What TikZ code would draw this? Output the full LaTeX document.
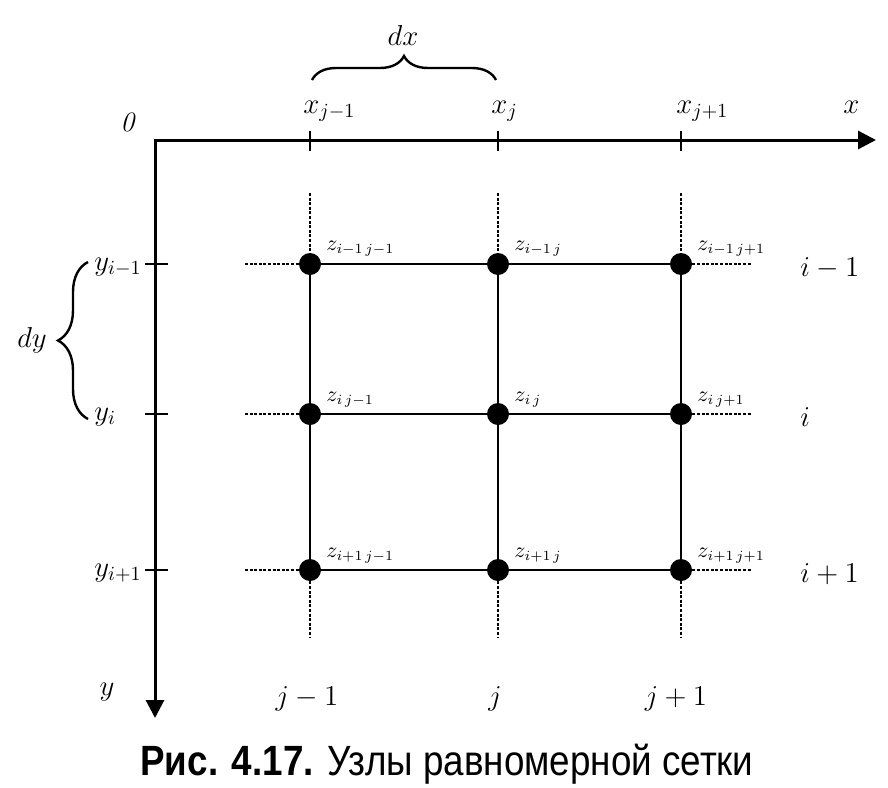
\documentclass[tikz,border=0pt]{standalone}
\usepackage{amsmath}
\usepackage{fontspec}
\usetikzlibrary{arrows.meta,decorations.pathreplacing}
\newfontfamily\capfont{Liberation Sans}

\begin{document}
\begin{tikzpicture}[x=0.5pt,y=-0.5pt,
        axis/.style={line width=1.5pt,{Triangle[length=9pt,width=9pt]}-{Triangle[length=9pt,width=9pt]}},
        gridline/.style={line width=1pt},
        stub/.style={line width=0.9pt,dash pattern=on 1.5pt off 0.8pt},
        tick/.style={line width=1.2pt},
        knot/.style={circle,fill=black,inner sep=0pt,minimum size=11pt},
        zlab/.style={font=\fontsize{10.5}{12}\selectfont,anchor=base west,inner sep=0pt},
        axlab/.style={font=\fontsize{14}{16}\selectfont,inner sep=0pt},
        idxlab/.style={font=\fontsize{14}{16}\selectfont,inner sep=0pt},
        brc/.style={decorate,decoration={brace,amplitude=#1},line width=1.2pt}]
            \useasboundingbox (0,0) rectangle (888,787);
            \coordinate (orig) at (155,140);
            \coordinate (xend) at (876,140);
            \coordinate (yend) at (155,718);
            \draw[axis] (xend) -- (orig) -- (yend);
            \foreach \xx in {310,498,681}
                \draw[tick] (\xx,131) -- (\xx,151);
            \foreach \yy in {264,414,570}
                \draw[tick] (145,\yy) -- (168,\yy);
            \foreach \r/\yy in {1/264,2/414,3/570}
                \foreach \c/\xx in {1/310,2/498,3/681}
                    \node[knot] (n\r\c) at (\xx,\yy) {};
            \foreach \r/\yy in {1/264,2/414,3/570} {
                \coordinate (w\r) at (245,\yy);
                \coordinate (e\r) at (752,\yy);
                \draw[gridline] (n\r1) -- (n\r2) -- (n\r3);
                \draw[stub] (w\r) -- (n\r1);
                \draw[stub] (n\r3) -- (e\r);
            }
            \foreach \c/\xx in {1/310,2/498,3/681} {
                \coordinate (t\c) at (\xx,193);
                \coordinate (b\c) at (\xx,638);
                \draw[gridline] (n1\c) -- (n2\c) -- (n3\c);
                \draw[stub] (t\c) -- (n1\c);
                \draw[stub] (n3\c) -- (b\c);
            }
            \node[zlab] (z11) at (326,250) {$z_{i-1\,j-1}$};
            \node[zlab] (z12) at (514,250) {$z_{i-1\,j}$};
            \node[zlab] (z13) at (697,250) {$z_{i-1\,j+1}$};
            \node[zlab] (z21) at (326,401) {$z_{i\,j-1}$};
            \node[zlab] (z22) at (514,401) {$z_{i\,j}$};
            \node[zlab] (z23) at (697,401) {$z_{i\,j+1}$};
            \node[zlab] (z31) at (326,557) {$z_{i+1\,j-1}$};
            \node[zlab] (z32) at (514,557) {$z_{i+1\,j}$};
            \node[zlab] (z33) at (697,557) {$z_{i+1\,j+1}$};
            \node[axlab,anchor=base west] (xa) at (303,113) {$x_{j-1}$};
            \node[axlab,anchor=base west] (xb) at (491,113) {$x_{j}$};
            \node[axlab,anchor=base west] (xc) at (676,113) {$x_{j+1}$};
            \node[axlab,anchor=base west] (xlab) at (843,113) {$x$};
            \node[axlab] (zero) at (128,122) {\textit{0}};
            \node[axlab,anchor=base west] (ya) at (94,270) {$y_{i-1}$};
            \node[axlab,anchor=base west] (yb) at (94,420) {$y_{i}$};
            \node[axlab,anchor=base west] (yc) at (94,576) {$y_{i+1}$};
            \node[axlab,anchor=base] (ylab) at (107,695) {$y$};
            \draw[brc=12pt] (312,80) -- (496,80);
            \node[axlab,anchor=base] (dx) at (403,45) {$dx$};
            \draw[brc=15pt] (88,419) -- (88,262);
            \node[axlab] (dy) at (32,340) {$dy$};
            \node[idxlab,anchor=base west] (ra) at (800,276) {$i-1$};
            \node[idxlab,anchor=base west] (rb) at (800,426) {$i$};
            \node[idxlab,anchor=base west] (rc) at (800,582) {$i+1$};
            \node[idxlab,anchor=base] (ca) at (307,705) {$j-1$};
            \node[idxlab,anchor=base] (cb) at (495,705) {$j$};
            \node[idxlab,anchor=base] (cc) at (676,705) {$j+1$};
            \node[anchor=base,inner sep=0pt,font=\capfont\fontsize{18.4}{22}\selectfont] (cap) at (447,775)
                {\scalebox{1}[1.15]{\textbf{Рис. 4.17.} Узлы равномерной сетки}};
        \end{tikzpicture}
\end{document}
